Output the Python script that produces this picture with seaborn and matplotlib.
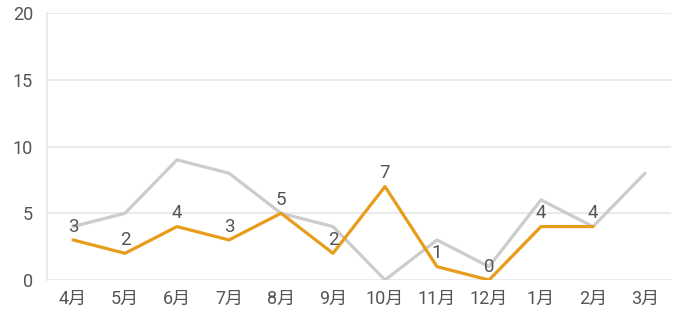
import matplotlib
matplotlib.use("Agg")
import matplotlib.pyplot as plt
import seaborn as sns
import pandas as pd

months = ["4月", "5月", "6月", "7月", "8月", "9月", "10月", "11月", "12月", "1月", "2月", "3月"]
gray_values = [4, 5, 9, 8, 5, 4, 0, 3, 1, 6, 4, 8]
orange_values = [3, 2, 4, 3, 5, 2, 7, 1, 0, 4, 4, None]
y_ticks = [0, 5, 10, 15, 20]

sns.set_theme(style="white")
plt.rcParams['font.family'] = ['Roboto', 'Noto Sans CJK JP', 'DejaVu Sans']

fig = plt.figure(figsize=(6.85, 3.23), dpi=100)
ax = fig.add_axes([47/685, 43/323, 624/685, 267/323])

x = list(range(len(months)))
df_gray = pd.DataFrame({"x": x, "y": gray_values})
df_orange = pd.DataFrame({"x": x, "y": orange_values}).dropna()

sns.lineplot(data=df_gray, x="x", y="y", ax=ax, color="#cccccc", linewidth=2.3)
sns.lineplot(data=df_orange, x="x", y="y", ax=ax, color="#e89c1c", linewidth=2.3)

for xi, yi in zip(df_orange["x"], df_orange["y"]):
    ax.annotate(f"{int(yi)}", (xi, yi), xytext=(0, 3), textcoords="offset points",
                ha="center", va="bottom", fontsize=13.5, color="#555555")

ax.set_xlim(-0.5, len(months) - 0.5)
ax.set_ylim(0, 20)
ax.set_yticks(y_ticks)
ax.set_yticklabels([str(v) for v in y_ticks])
ax.set_xticks(x)
ax.set_xticklabels(months)
ax.set_xlabel("")
ax.set_ylabel("")
ax.tick_params(axis="both", length=0, labelsize=13, colors="#555555")
ax.tick_params(axis="x", pad=7)
ax.tick_params(axis="y", pad=10)
ax.grid(axis="y", color="#e6e6e6", linewidth=1.2)
ax.set_axisbelow(True)
for s in ["top", "right", "bottom"]:
    ax.spines[s].set_visible(False)
ax.spines["left"].set_color("#e6e6e6")
ax.spines["left"].set_linewidth(1.2)

fig.savefig("out.png", dpi=100)
